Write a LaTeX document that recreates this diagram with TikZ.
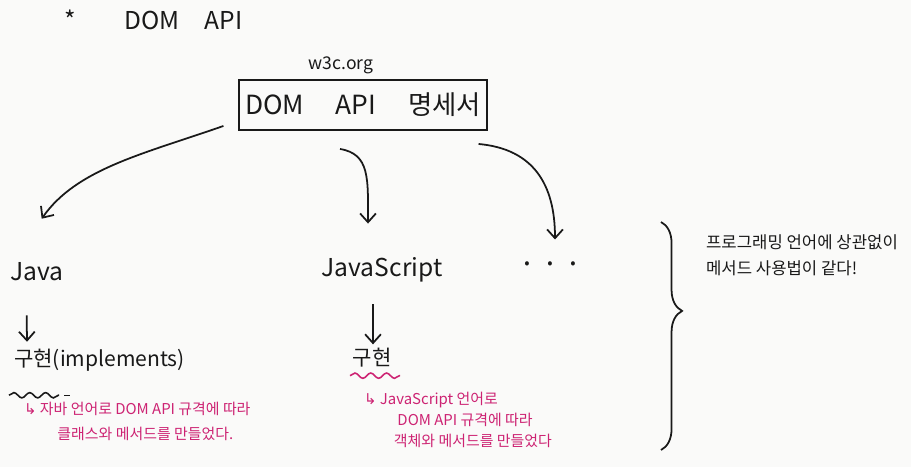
\documentclass[tikz,border=0pt]{standalone}
\usepackage{fontspec}
\setmainfont{Noto Sans CJK KR}
\newfontfamily\symfont{DejaVu Sans}
\usepackage{tikz}
\usetikzlibrary{arrows.meta, positioning, decorations.pathmorphing, decorations.pathreplacing}
\definecolor{ink}{RGB}{25, 25, 25}
\definecolor{notepink}{RGB}{205, 35, 115}
\definecolor{paper}{RGB}{250, 250, 249}
\tikzset{
  label/.style={text=ink, inner sep=1pt, font=\fontsize{14}{16}\selectfont},
  note/.style={text=notepink, inner sep=1pt, align=left,
              font=\fontsize{8.5}{14}\selectfont},
  specbox/.style={rectangle, draw=ink, line width=1.1pt, minimum width=4.82cm,
              minimum height=1cm, font=\fontsize{15}{18}\selectfont, text=ink},
  arrow/.style={-{Straight Barb[length=5pt, width=9pt]}, line width=1pt, color=ink},
  squiggle/.style={decorate, decoration={snake, segment length=9, amplitude=1.5pt},
              line width=0.9pt},
}

\begin{document}
\begin{tikzpicture}[x=0.02cm, y=-0.02cm]
  \fill[paper] (0,0) rectangle (911,467);
  \useasboundingbox (0,0) rectangle (911,467);

  \node[label, anchor=west] (title) at (62,20) {*\hspace{28pt}DOM\hspace{14pt}API};
  \node[label, font=\fontsize{10}{12}\selectfont] (site) at (341,65) {w3c.org};
  \node[specbox] (spec) at (363,105) {DOM\hspace{18pt}API\hspace{18pt}명세서};

  \node[label, anchor=west] (java) at (8,272) {Java};
  \node[label] (js) at (382,270) {JavaScript};
  \node[label, font=\fontsize{9}{10}\selectfont] (dots) at (550,265) {•\hspace{10pt}•\hspace{10pt}•};

  \node[label, anchor=west, font=\fontsize{12}{14}\selectfont] (impljava) at (12,360) {구현(implements)};
  \node[label, font=\fontsize{12}{14}\selectfont] (impljs) at (372,358) {구현};

  \node[note, anchor=north west] (notejava) at (22,400)
        {{\symfont ↳} 자바 언어로 DOM API 규격에 따라\\
         \hspace{19pt}클래스와 메서드를 만들었다.};
  \node[note, anchor=north west, font=\fontsize{8.5}{12}\selectfont] (notejs) at (362,390)
        {{\symfont ↳} JavaScript 언어로\\
         \hspace{19pt}DOM API 규격에 따라\\
         \hspace{17pt}객체와 메서드를 만들었다};

  \node[label, anchor=north west, align=left, font=\fontsize{9.5}{14.5}\selectfont] (summary) at (704,233)
        {프로그래밍 언어에 상관없이\\메서드 사용법이 같다!};

  % arrows from the spec
  \draw[arrow] ([shift={(-15,-5)}]spec.south west) .. controls +(-80,28) and +(35,-50) .. ([shift={(5,-42)}]java.north);
  \draw[arrow] ([shift={(-23,18)}]spec.south) .. controls +(30,5) and +(0,-45) .. ([shift={(-14,-32)}]js.north);
  \draw[arrow] ([shift={(-9,13)}]spec.south east) .. controls +(55,5) and +(0,-55) .. ([shift={(5,-20)}]dots.north);

  \draw[arrow] ([shift={(-10,32)}]java.south) -- ([shift={(15,-5)}]impljava.north west);
  \draw[arrow] ([shift={(-9,20)}]js.south) -- ([shift={(1,-2)}]impljs.north);

  % squiggles
  \draw[squiggle, ink] ([shift={(-3,22)}]impljava.south west) -- +(50,0);
  \draw[ink, line width=0.8pt] ([shift={(52,22)}]impljava.south west) -- +(6,0);
  \draw[squiggle, notepink] ([shift={(-22,6)}]impljs.south) -- +(50,0);

  % brace
  \draw[ink, line width=1pt, decorate, decoration={brace, amplitude=12pt, aspect=0.39}]
        (661,222) -- (661,450);
\end{tikzpicture}
\end{document}
